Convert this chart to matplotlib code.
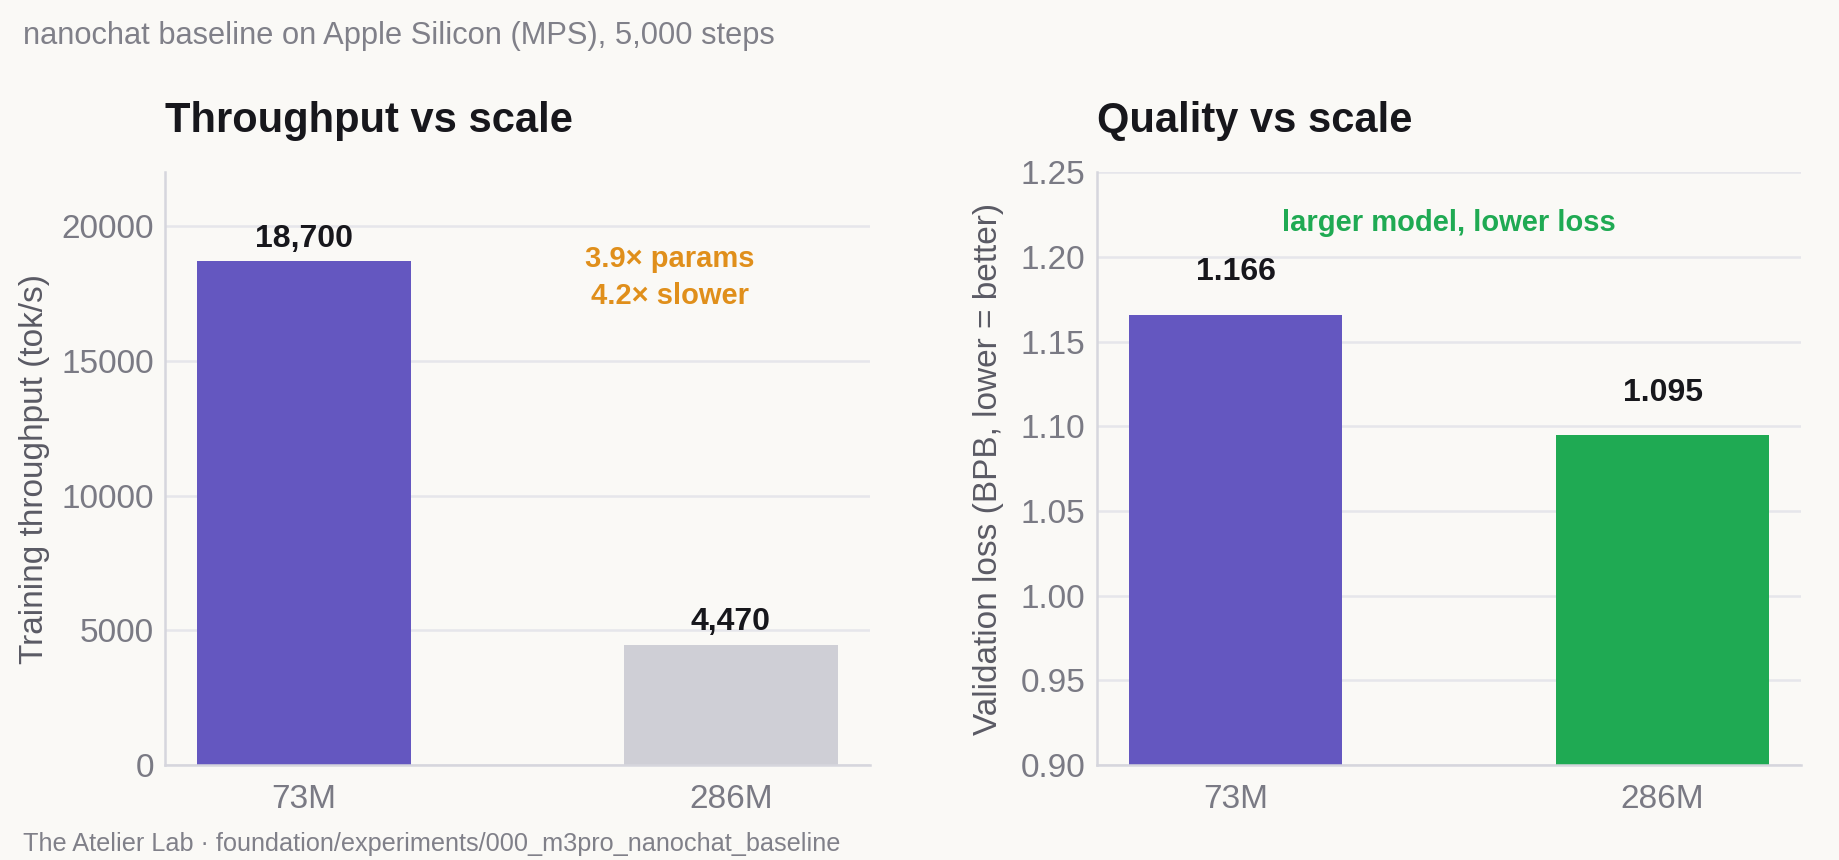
import matplotlib
matplotlib.use("Agg")
import matplotlib.pyplot as plt
from matplotlib.ticker import FormatStrFormatter

# Data
models = ["73M", "286M"]
throughput = [18700, 4470]
throughput_labels = ["18,700", "4,470"]
val_loss = [1.166, 1.095]
val_loss_labels = ["1.166", "1.095"]

BG = "#faf9f6"
PURPLE = "#6457c0"
GREY_BAR = "#cfcfd6"
GREEN = "#1faa53"
ORANGE = "#e08f1b"
TICK = "#7a7a84"
GRID = "#e6e6eb"
SPINE = "#d6d6dd"
DARK = "#17171c"

plt.rcParams["font.family"] = ["Liberation Sans", "DejaVu Sans"]

fig = plt.figure(figsize=(9.2, 4.3), dpi=200, facecolor=BG)
ax1 = fig.add_axes([0.0897, 0.1105, 0.383, 0.689])
ax2 = fig.add_axes([0.596, 0.1105, 0.383, 0.689])


def style_axes(ax):
    ax.set_facecolor(BG)
    for side in ["top", "right"]:
        ax.spines[side].set_visible(False)
    for side in ["left", "bottom"]:
        ax.spines[side].set_color(SPINE)
        ax.spines[side].set_linewidth(0.9)
    ax.grid(True, axis="y", color=GRID, linewidth=0.9)
    ax.set_axisbelow(True)
    ax.tick_params(axis="both", length=0, labelsize=12, labelcolor=TICK)
    ax.tick_params(axis="y", pad=4)
    ax.tick_params(axis="x", pad=7)


# Left panel: throughput
style_axes(ax1)
x = range(len(models))
ax1.bar(x, throughput, width=0.5, color=[PURPLE, GREY_BAR])
ax1.set_xticks(list(x))
ax1.set_xticklabels(models)
ax1.set_ylim(0, 22000)
ax1.set_yticks([0, 5000, 10000, 15000, 20000])
ax1.set_ylabel("Training throughput (tok/s)", fontsize=12, color="#5a5a64", labelpad=4)
for i, v in enumerate(throughput):
    ax1.text(i, v + 820, throughput_labels[i], ha="center", va="center",
             fontsize=11.5, fontweight="bold", color=DARK)
ax1.text(0.857, 18100, "3.9× params\n4.2× slower", ha="center", va="center",
         fontsize=10.5, fontweight="bold", color=ORANGE, linespacing=1.45)

# Right panel: validation loss
style_axes(ax2)
ax2.bar(x, val_loss, width=0.5, color=[PURPLE, GREEN])
ax2.set_xticks(list(x))
ax2.set_xticklabels(models)
ax2.set_ylim(0.90, 1.25)
ax2.set_yticks([0.90, 0.95, 1.00, 1.05, 1.10, 1.15, 1.20, 1.25])
ax2.yaxis.set_major_formatter(FormatStrFormatter("%.2f"))
ax2.set_ylabel("Validation loss (BPB, lower = better)", fontsize=12, color="#5a5a64", labelpad=6)
for i, v in enumerate(val_loss):
    ax2.text(i, v + 0.025, val_loss_labels[i], ha="center", va="center",
             fontsize=11.5, fontweight="bold", color=DARK)
ax2.text(0.5, 1.2200, "larger model, lower loss", ha="center", va="center",
         fontsize=10.5, fontweight="bold", color=GREEN)

# Titles and captions
fig.text(0.0897, 1 - 121 / 860, "Throughput vs scale", ha="left", va="center",
         fontsize=15, fontweight="bold", color=DARK)
fig.text(0.596, 1 - 121 / 860, "Quality vs scale", ha="left", va="center",
         fontsize=15, fontweight="bold", color=DARK)
fig.text(0.0125, 1 - 36 / 860, "nanochat baseline on Apple Silicon (MPS), 5,000 steps",
         ha="left", va="center", fontsize=11.1, color="#808089")
fig.text(0.0125, 1 - 844 / 860, "The Atelier Lab · foundation/experiments/000_m3pro_nanochat_baseline",
         ha="left", va="center", fontsize=9.1, color="#808089")

fig.savefig("out.png", dpi=200, facecolor=BG)
plt.close(fig)
